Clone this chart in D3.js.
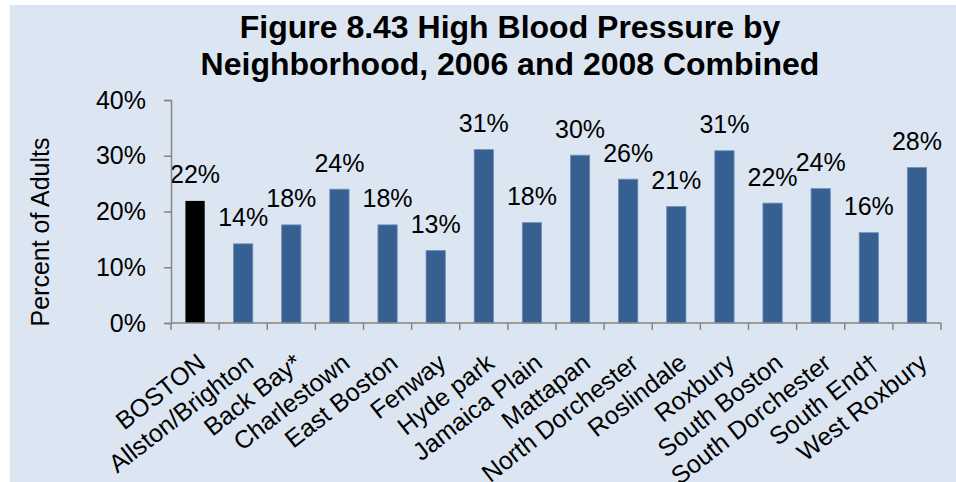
<!DOCTYPE html>
<html>
<head>
<meta charset="utf-8">
<script src="https://cdn.jsdelivr.net/npm/d3@7/dist/d3.min.js"></script>
<style>
  html, body { margin: 0; padding: 0; background: #ffffff; }
  svg { display: block; }
  text { font-family: "Liberation Sans", Arial, sans-serif; fill: #000; }
</style>
</head>
<body>
<svg id="chart" width="956" height="482"></svg>
<script>
const categories = ["BOSTON", "Allston/Brighton", "Back Bay*", "Charlestown", "East Boston", "Fenway",
  "Hyde park", "Jamaica Plain", "Mattapan", "North Dorchester", "Roslindale", "Roxbury",
  "South Boston", "South Dorchester", "South End\u2020", "West Roxbury"];
const values = [21.9, 14.2, 17.6, 24.0, 17.6, 13.0, 31.1, 18.0, 30.1, 25.8, 20.9, 30.9, 21.5, 24.1, 16.2, 27.9];
const yTicks = [0, 10, 20, 30, 40];
const titleLines = ["Figure 8.43 High Blood Pressure by", "Neighborhood, 2006 and 2008 Combined"];
const yTitle = "Percent of Adults";

const svg = d3.select("#chart");
const W = 956, H = 482;

svg.append("rect").attr("x", 10).attr("y", 5).attr("width", W - 10).attr("height", H - 5)
  .attr("fill", "#dce6f2");

const x = d3.scaleBand().domain(categories).range([171, 941]).paddingInner(0.6).paddingOuter(0.3);
const y = d3.scaleLinear().domain([0, 40]).range([323, 100]);

// title
svg.append("g").selectAll("text").data(titleLines).join("text")
  .attr("x", 510).attr("y", (d, i) => 38 + i * 37)
  .attr("text-anchor", "middle").attr("font-weight", "bold").attr("font-size", 32)
  .text(d => d);

// y title
svg.append("text")
  .attr("transform", "translate(49," + 232 + ") rotate(-90)")
  .attr("text-anchor", "middle").attr("font-size", 25)
  .text(yTitle);

// bars
svg.append("g").selectAll("rect").data(values).join("rect")
  .attr("x", (d, i) => x(categories[i]))
  .attr("width", x.bandwidth())
  .attr("y", d => y(d))
  .attr("height", d => y(0) - y(d))
  .attr("fill", (d, i) => i === 0 ? "#000000" : "#376092")
  .attr("stroke", (d, i) => i === 0 ? "none" : "#6f8fb8")
  .attr("stroke-width", 0.8);

// data labels
svg.append("g").selectAll("text").data(values).join("text")
  .attr("x", (d, i) => x(categories[i]) + x.bandwidth() / 2)
  .attr("y", d => y(d) - 17.5)
  .attr("text-anchor", "middle").attr("font-size", 25)
  .text(d => Math.round(d) + "%");

// y axis
const yAxis = d3.axisLeft(y).tickValues(yTicks).tickFormat(d => d + "%").tickSize(7).tickPadding(18);
const gy = svg.append("g").attr("transform", "translate(171,0)").call(yAxis);
gy.select(".domain").attr("stroke", "#868686").attr("stroke-width", 1.5);
gy.selectAll(".tick line").attr("stroke", "#868686").attr("stroke-width", 1.5);
gy.selectAll(".tick text").attr("font-size", 25).attr("font-family", "Liberation Sans, Arial, sans-serif").attr("fill", "#000");

// x axis with ticks at band boundaries
const boundaries = categories.map(c => x(c) - x.step() * x.paddingInner() / 2);
boundaries.push(941);
const gx = svg.append("g");
gx.append("line").attr("x1", 171).attr("x2", 941).attr("y1", y(0)).attr("y2", y(0))
  .attr("stroke", "#868686").attr("stroke-width", 1.5);
gx.selectAll("line.tk").data(boundaries).join("line").attr("class", "tk")
  .attr("x1", d => d).attr("x2", d => d).attr("y1", y(0)).attr("y2", y(0) + 7)
  .attr("stroke", "#868686").attr("stroke-width", 1.5);

// category labels
svg.append("g").selectAll("text").data(categories).join("text")
  .attr("text-anchor", "end").attr("font-size", 25)
  .attr("transform", d => "translate(" + (x(d) + x.bandwidth() / 2 + 12) + ",366) rotate(-38)")
  .text(d => d);
</script>
</body>
</html>
